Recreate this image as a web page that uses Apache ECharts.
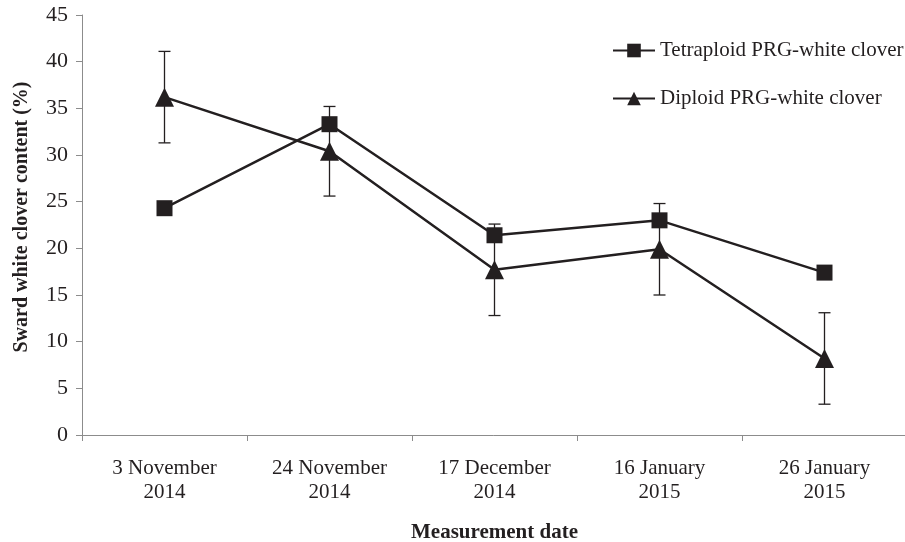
<!DOCTYPE html>
<html>
<head>
<meta charset="utf-8">
<script src="https://cdn.jsdelivr.net/npm/echarts@6/dist/echarts.min.js"></script>
<style>
  html, body { margin: 0; padding: 0; background: #fff; }
  #chart { width: 905px; height: 542px; }
</style>
</head>
<body>
<div id="chart"></div>
<script>
// Measurement dates (two-line axis labels)
const categories = ['3 November\n2014', '24 November\n2014', '17 December\n2014', '16 January\n2015', '26 January\n2015'];
// Sward white clover content (%)
const tetraploid = [24.3, 33.3, 21.4, 23.0, 17.4];
const diploid = [36.2, 30.4, 17.7, 19.9, 8.2];
// Error half-widths for the diploid series
const diploidErr = [4.9, 4.8, 4.9, 4.9, 4.9];
const yTicks = { min: 0, max: 45, interval: 5 };

const ink = '#231f20';
const serif = '"Liberation Serif", "DejaVu Serif", serif';

const errData = categories.map((c, i) => [i, diploid[i] - diploidErr[i], diploid[i] + diploidErr[i]]);

const chart = echarts.init(document.getElementById('chart'));
chart.setOption({
  animation: false,
  backgroundColor: '#fff',
  textStyle: { fontFamily: serif, color: ink },
  grid: { left: 82, top: 15, width: 825, height: 420, containLabel: false, outerBoundsMode: 'none' },
  legend: {
    orient: 'vertical',
    left: 607,
    top: 35,
    itemGap: 27,
    itemWidth: 42,
    itemHeight: 17,
    textStyle: { fontFamily: serif, fontSize: 21, color: ink },
    data: ['Tetraploid PRG-white clover', 'Diploid PRG-white clover']
  },
  xAxis: {
    type: 'category',
    data: categories,
    boundaryGap: true,
    name: 'Measurement date',
    nameLocation: 'middle',
    nameGap: 87,
    nameTextStyle: { fontFamily: serif, fontSize: 21, fontWeight: 'bold', color: ink },
    axisLine: { lineStyle: { color: '#8c8c8c', width: 1 } },
    axisTick: { show: true, length: 6, lineStyle: { color: '#8c8c8c' } },
    axisLabel: { fontFamily: serif, fontSize: 21, color: ink, lineHeight: 24, margin: 21 },
    splitLine: { show: false }
  },
  yAxis: {
    type: 'value',
    min: yTicks.min,
    max: yTicks.max,
    interval: yTicks.interval,
    name: 'Sward white clover content (%)',
    nameLocation: 'middle',
    nameRotate: 90,
    nameGap: 50,
    nameTextStyle: { fontFamily: serif, fontSize: 20, fontWeight: 'bold', color: ink, padding: [0, 0, 0, 16] },
    axisLine: { show: true, lineStyle: { color: '#8c8c8c', width: 1 } },
    axisTick: { show: true, length: 6, lineStyle: { color: '#8c8c8c' } },
    axisLabel: { fontFamily: serif, fontSize: 22, color: ink, margin: 14 },
    splitLine: { show: false }
  },
  series: [
    {
      name: 'Tetraploid PRG-white clover',
      type: 'line',
      data: tetraploid,
      symbol: 'rect',
      symbolSize: 16,
      itemStyle: { color: ink },
      lineStyle: { color: ink, width: 2.5 },
      z: 3
    },
    {
      name: 'Diploid PRG-white clover',
      type: 'line',
      data: diploid,
      symbol: 'triangle',
      symbolSize: 19,
      itemStyle: { color: ink },
      lineStyle: { color: ink, width: 2.5 },
      z: 3
    },
    {
      name: 'Diploid error',
      type: 'custom',
      data: errData,
      z: 2,
      renderItem: function (params, api) {
        const x = api.value(0);
        const lo = api.coord([x, api.value(1)]);
        const hi = api.coord([x, api.value(2)]);
        const cap = 6;
        const style = { stroke: ink, lineWidth: 1.3 };
        return {
          type: 'group',
          children: [
            { type: 'line', shape: { x1: lo[0], y1: lo[1], x2: hi[0], y2: hi[1] }, style: style },
            { type: 'line', shape: { x1: lo[0] - cap, y1: lo[1], x2: lo[0] + cap, y2: lo[1] }, style: style },
            { type: 'line', shape: { x1: hi[0] - cap, y1: hi[1], x2: hi[0] + cap, y2: hi[1] }, style: style }
          ]
        };
      }
    }
  ]
});
</script>
</body>
</html>
